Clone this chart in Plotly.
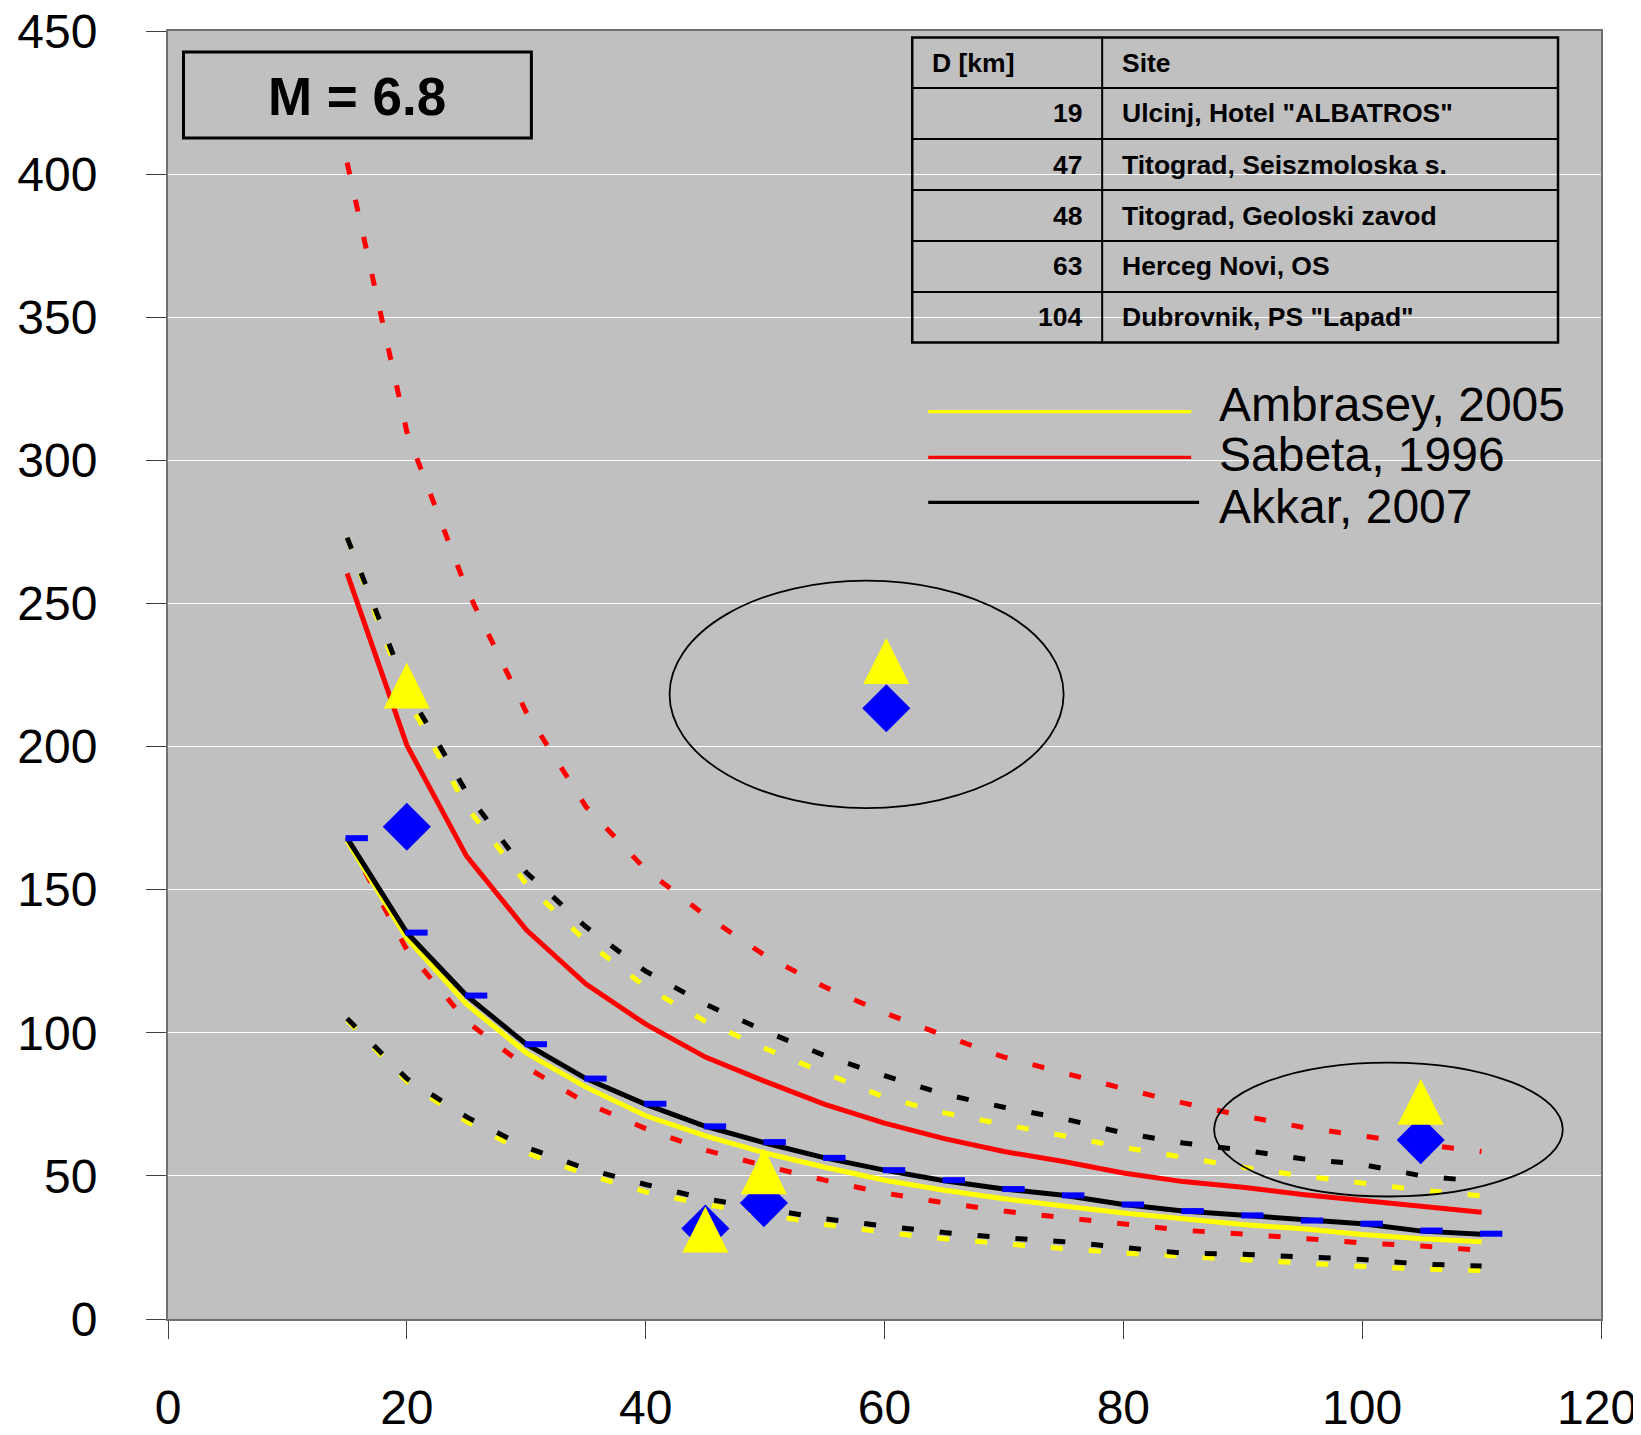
import plotly.graph_objects as go

# ---------------- data ----------------
dist = [15, 20, 25, 30, 35, 40, 45, 50, 55, 60, 65, 70, 75, 80, 85, 90, 95, 100, 105, 110]

ambr_med = [167, 133, 110, 93, 81, 71, 64, 58, 53, 48.5, 45, 42, 39.5, 37, 35, 33, 31.5, 29.5, 28, 27]
ambr_up = [273, 217, 179, 152, 132, 116, 104, 94.5, 86, 77.5, 72, 68, 64, 60, 56.5, 53, 50, 47.5, 45, 43]
ambr_lo = [104.4, 83, 69, 58, 50.6, 44.4, 40, 36.3, 33, 30.3, 28, 26.3, 24.7, 23, 21.9, 20.6, 19.7, 18.4, 17.5, 16.9]

sab_med = [260.5, 200.5, 161.7, 136, 117, 103, 91.5, 83, 75, 68.4, 63, 58.5, 55, 51, 48, 46, 43.5, 41.3, 39.5, 37.3]
sab_up = [404, 310, 255, 212, 179, 157, 141, 127, 116, 107, 99, 91.5, 86, 80.5, 75.5, 71, 67, 64, 61, 58.5]
sab_lo = [168, 129, 104, 88, 75.5, 66.5, 59, 53.5, 48.5, 44, 40.6, 37.7, 35.4, 33, 31, 29.7, 28, 26.6, 25.5, 24]

akk_med = [168, 135, 113, 96, 84, 75, 67.3, 61.5, 56.3, 52, 48.3, 45.4, 43.2, 40, 37.7, 36.2, 34.4, 33.3, 30.7, 29.6]
akk_up = [273, 220, 184, 156, 137, 121.5, 110, 100.6, 92, 85, 78.5, 74, 70, 65, 61.5, 59, 56, 54, 50, 48]
akk_lo = [105, 84, 70.6, 60, 52.5, 47, 42, 38.4, 35, 32.5, 30.2, 28.4, 27, 25, 23, 22.6, 21.5, 20.8, 19.2, 18.5]

blue_x = [15.8, 20.8, 25.8, 30.8, 35.8, 40.8, 45.8, 50.8, 55.8, 60.8, 65.8, 70.8, 75.8, 80.8, 85.8, 90.8, 95.8, 100.8, 105.8, 110.8]
blue_y = [168, 135, 113, 96, 84, 75.2, 67.3, 61.8, 56.3, 52, 48.5, 45.4, 43.2, 40, 37.7, 36.2, 34.4, 33.3, 30.9, 29.8]

obs_x = [20, 60.15, 45, 49.9, 104.9]
tri_y = [221.3, 229.9, 31.3, 51.6, 75.9]
dia_y = [172, 213.4, 31.6, 40.5, 62.5]

table_head = ["D [km]", "Site"]
table_d = ["19", "47", "48", "63", "104"]
table_site = ['Ulcinj, Hotel "ALBATROS"', "Titograd, Seiszmoloska s.",
              "Titograd, Geoloski zavod", "Herceg Novi, OS", 'Dubrovnik, PS "Lapad"']

legend_names = ["Ambrasey, 2005", "Sabeta, 1996", "Akkar, 2007"]
legend_colors = ["#FFFF00", "#FF0000", "#000000"]

x_ticks = [0, 20, 40, 60, 80, 100, 120]
y_ticks = [0, 50, 100, 150, 200, 250, 300, 350, 400, 450]

# ---------------- layout geometry (page pixels) ----------------
OFF = 8                      # default body margin of the page
W, H = 1641 - OFF, 1435 - OFF
L, R, T, B = 167.5 - OFF, 1601 - OFF, 31 - OFF, 1319 - OFF
PW, PH = R - L, B - T
X_MAX, Y_MAX = 120, 450


def px(xp):
    return (xp - OFF - L) / PW


def py(yp):
    return (B - (yp - OFF)) / PH


FONT = "Liberation Sans, Arial, sans-serif"
DASH = "12px,26px"
TRI = 46
tri_shift = (TRI / 2) * Y_MAX / PH   # centre the arrow-shaped triangle on its value

fig = go.Figure()


def add_line(y, color, dash=None, width=5):
    fig.add_trace(go.Scatter(x=dist, y=y, mode="lines",
                             line=dict(color=color, width=width, dash=dash),
                             showlegend=False, hoverinfo="skip"))


add_line(ambr_up, "#FFFF00", DASH)
add_line(akk_up, "#000000", DASH)
add_line(ambr_lo, "#FFFF00", DASH)
add_line(akk_lo, "#000000", DASH)
add_line(sab_up, "#FF0000", DASH)
add_line(sab_lo, "#FF0000", DASH)
add_line(sab_med, "#FF0000", None, 5)
add_line(ambr_med, "#FFFF00", None, 5)
add_line(akk_med, "#000000", None, 5)

fig.add_trace(go.Scatter(x=blue_x, y=blue_y, mode="markers",
                         marker=dict(symbol="line-ew", size=16, color="#0000FF",
                                     line=dict(color="#0000FF", width=6)),
                         showlegend=False, hoverinfo="skip"))
fig.add_trace(go.Scatter(x=obs_x, y=dia_y, mode="markers",
                         marker=dict(symbol="diamond", size=37, color="#0000FF",
                                     line=dict(width=0)),
                         showlegend=False, hoverinfo="skip"))
fig.add_trace(go.Scatter(x=obs_x, y=tri_y, mode="markers", yaxis="y2",
                         marker=dict(symbol="arrow-up", size=TRI, color="#FFFF00",
                                     line=dict(width=0)),
                         showlegend=False, hoverinfo="skip"))

shapes = []
annotations = []

# ellipses (data coordinates)
shapes.append(dict(type="circle", xref="x", yref="y", x0=42.0, x1=75.0, y0=178.5, y1=258,
                   line=dict(color="#000000", width=1.8)))
shapes.append(dict(type="circle", xref="x", yref="y", x0=87.6, x1=116.8, y0=42.8, y1=89.6,
                   line=dict(color="#000000", width=1.8)))

# M = 6.8 box
shapes.append(dict(type="rect", xref="paper", yref="paper", x0=px(183), x1=px(531),
                   y0=py(138), y1=py(52), line=dict(color="#000000", width=3)))
annotations.append(dict(text="<b>M = 6.8</b>", xref="paper", yref="paper", x=px(357), y=py(97),
                        xanchor="center", yanchor="middle", showarrow=False,
                        font=dict(family=FONT, size=53, color="#000000")))

# table
tx0, tx1, tx2 = 912, 1102, 1558
row_lines = [37.5, 88, 139, 190, 241, 292, 342.5]
shapes.append(dict(type="rect", xref="paper", yref="paper", x0=px(tx0), x1=px(tx2),
                   y0=py(row_lines[-1]), y1=py(row_lines[0]),
                   line=dict(color="#000000", width=2.5)))
shapes.append(dict(type="line", xref="paper", yref="paper", x0=px(tx1), x1=px(tx1),
                   y0=py(row_lines[-1]), y1=py(row_lines[0]),
                   line=dict(color="#000000", width=2)))
for yl in row_lines[1:-1]:
    shapes.append(dict(type="line", xref="paper", yref="paper", x0=px(tx0), x1=px(tx2),
                       y0=py(yl), y1=py(yl), line=dict(color="#000000", width=2)))

tfont = dict(family=FONT, size=26.5, color="#000000")
centers = [(row_lines[i] + row_lines[i + 1]) / 2 for i in range(6)]
annotations.append(dict(text="<b>%s</b>" % table_head[0], xref="paper", yref="paper",
                        x=px(930), y=py(centers[0]), xanchor="left", yanchor="middle",
                        showarrow=False, font=tfont))
annotations.append(dict(text="<b>%s</b>" % table_head[1], xref="paper", yref="paper",
                        x=px(1120), y=py(centers[0]), xanchor="left", yanchor="middle",
                        showarrow=False, font=tfont))
for i, (dv, sv) in enumerate(zip(table_d, table_site)):
    annotations.append(dict(text="<b>%s</b>" % dv, xref="paper", yref="paper",
                            x=px(1084), y=py(centers[i + 1]), xanchor="right", yanchor="middle",
                            showarrow=False, font=tfont))
    annotations.append(dict(text="<b>%s</b>" % sv, xref="paper", yref="paper",
                            x=px(1120), y=py(centers[i + 1]), xanchor="left", yanchor="middle",
                            showarrow=False, font=tfont))

# custom legend
leg_line_y = [411.7, 457.3, 502.3]
leg_line_x1 = [1191, 1191, 1199]
leg_text_y = [404, 455, 506]
for name, col, ly, lx1, ty in zip(legend_names, legend_colors, leg_line_y, leg_line_x1, leg_text_y):
    shapes.append(dict(type="line", xref="paper", yref="paper", x0=px(928), x1=px(lx1),
                       y0=py(ly), y1=py(ly), line=dict(color=col, width=3.3)))
    annotations.append(dict(text=name, xref="paper", yref="paper", x=px(1217), y=py(ty),
                            xanchor="left", yanchor="middle", showarrow=False,
                            font=dict(family=FONT, size=48, color="#000000")))

# last x tick label sits flush against the right edge (as in the original), drawn as an annotation
x_ticktext = [str(v) for v in x_ticks[:-1]] + [""]
annotations.append(dict(text=str(x_ticks[-1]), xref="x", yref="paper", x=X_MAX, y=py(1407),
                        xanchor="right", yanchor="middle", xshift=38, showarrow=False,
                        font=dict(family=FONT, size=48, color="#000000")))

fig.update_layout(
    width=W, height=H,
    margin=dict(l=L, r=W - R, t=T, b=H - B, pad=0, autoexpand=False),
    paper_bgcolor="#FFFFFF",
    plot_bgcolor="#C0C0C0",
    showlegend=False,
    shapes=shapes,
    annotations=annotations,
    font=dict(family=FONT, color="#000000"),
    yaxis2=dict(overlaying="y", anchor="x", range=[-tri_shift, Y_MAX - tri_shift],
                visible=False, showgrid=False, zeroline=False),
)
fig.update_xaxes(range=[0, X_MAX], tickvals=x_ticks, ticktext=x_ticktext,
                 automargin=False, ticklabeloverflow="allow",
                 showgrid=False, zeroline=False,
                 showline=True, linecolor="#707070", linewidth=2, mirror=True,
                 ticks="outside", ticklen=18, tickwidth=1, tickcolor="#404040",
                 ticklabelstandoff=27,
                 tickfont=dict(family=FONT, size=48, color="#000000"))
fig.update_layout(yaxis=dict(range=[0, Y_MAX], tickvals=y_ticks, ticktext=[str(v) for v in y_ticks],
                             automargin=False, ticklabeloverflow="allow",
                             showgrid=True, gridcolor="#FFFFFF", gridwidth=1, zeroline=False,
                             showline=True, linecolor="#707070", linewidth=2, mirror=True,
                             ticks="outside", ticklen=20, tickwidth=1, tickcolor="#404040",
                             ticklabelstandoff=39,
                             tickfont=dict(family=FONT, size=48, color="#000000")))

fig.write_html("out.html")
